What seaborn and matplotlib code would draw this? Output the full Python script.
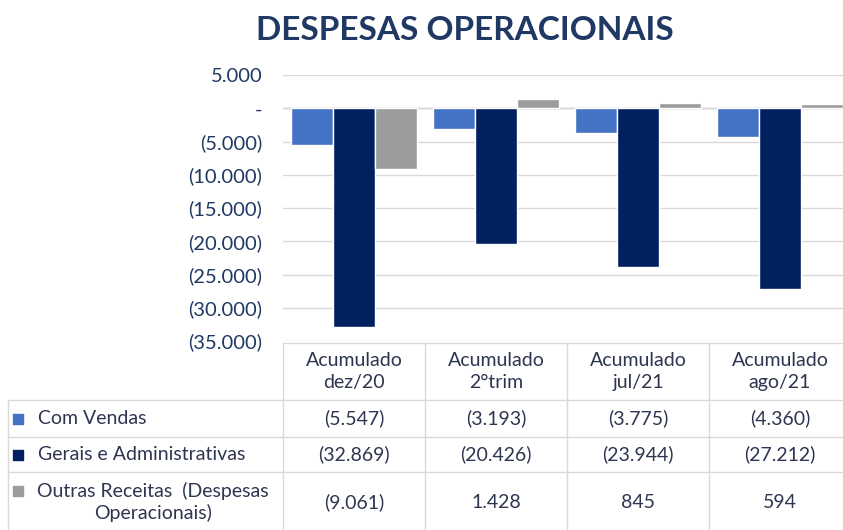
import numpy as np
import pandas as pd
import matplotlib.pyplot as plt
from matplotlib.ticker import FuncFormatter
import seaborn as sns

# --- dados (R$ mil)
periodos = ['Acumulado\ndez/20', 'Acumulado\n2°trim', 'Acumulado\njul/21', 'Acumulado\nago/21']
series = ['Com Vendas', 'Gerais e Administrativas', 'Outras Receitas  (Despesas\nOperacionais)']
com_vendas = [-5547, -3193, -3775, -4360]
gerais_adm = [-32869, -20426, -23944, -27212]
outras_rec = [-9061, 1428, 845, 594]
cores = ['#4472C4', '#002060', '#9C9C9C']

W, H = 843, 530
azul_txt = '#1F3864'
txt_tab = '#2E3550'
linha = '#D9D9D9'


def fmt_br(v, pos=None):
    if v == 0:
        return '-'
    s = f"{abs(int(round(v))):,}".replace(',', '.')
    return f"({s})" if v < 0 else s


def main():
    sns.set_theme(style='white')
    plt.rcParams['font.family'] = ['Lato', 'DejaVu Sans']

    df = pd.DataFrame({
        'periodo': periodos * 3,
        'serie': np.repeat(series, len(periodos)),
        'valor': com_vendas + gerais_adm + outras_rec,
    })

    fig = plt.figure(figsize=(W / 100, H / 100), dpi=100)
    fig.patch.set_facecolor('white')

    # --- area do grafico (coluna de 142 px por periodo)
    x0, col_w, y_top, y_bot = 283, 142, 75, 341
    ax = fig.add_axes([x0 / W, (H - y_bot) / H, 4 * col_w / W, (y_bot - y_top) / H])
    sns.barplot(data=df, x='periodo', y='valor', hue='serie',
                order=periodos, hue_order=series, palette=cores,
                saturation=1, width=0.89, legend=False, ax=ax)

    ax.set_xlim(-0.5, 3.5)
    ax.set_ylim(-35000, 5000)
    ax.set_yticks(np.arange(-35000, 5001, 5000))
    ax.yaxis.set_major_formatter(FuncFormatter(fmt_br))
    ax.yaxis.grid(True, color=linha, lw=1)
    ax.set_axisbelow(True)
    ax.axhline(0, color='#BFBFBF', lw=1, zorder=0.5)
    ax.set_xticks([])
    ax.set_xlabel('')
    ax.set_ylabel('')
    for sp in ax.spines.values():
        sp.set_visible(False)
    ax.tick_params(axis='y', length=0, pad=15, labelsize=14.5, labelcolor=azul_txt)

    fig.text(465 / W, 1 - 30 / H, 'DESPESAS OPERACIONAIS', ha='center', va='center',
             fontsize=24, fontweight='bold', color=azul_txt)

    # --- tabela de dados
    tab = fig.add_axes([0, 0, 1, 1])
    tab.set_xlim(0, W)
    tab.set_ylim(H, 0)
    tab.axis('off')
    tab.patch.set_alpha(0)

    y_head, rows = 343, [400, 437, 472, 532]
    x_right = x0 + 4 * col_w
    tab.plot([x0, x_right], [y_head, y_head], color=linha, lw=1)
    for yy in rows[:-1]:
        tab.plot([8, x_right], [yy, yy], color=linha, lw=1)
    tab.plot([8, 8], [rows[0], rows[-1]], color=linha, lw=1)
    for i in range(5):
        xx = x0 + i * col_w
        tab.plot([xx, xx], [y_head, rows[-1]], color=linha, lw=1)

    fs = 14
    for i, p in enumerate(periodos):
        tab.text(x0 + (i + 0.5) * col_w, (y_head + rows[0]) / 2, p, ha='center', va='center',
                 fontsize=fs, color=txt_tab, linespacing=1.35)

    valores = [com_vendas, gerais_adm, outras_rec]
    for r, (nome, vals, cor) in enumerate(zip(series, valores, cores)):
        yc = (rows[r] + rows[r + 1]) / 2
        if r == 2:
            tab.text(153, yc, nome, ha='center', va='center', fontsize=fs,
                     color=txt_tab, linespacing=1.3)
            tab.scatter([18], [yc - 11], marker='s', s=45, color=cor)
        else:
            tab.text(38, yc, nome, ha='left', va='center', fontsize=fs, color=txt_tab)
            tab.scatter([18], [yc], marker='s', s=45, color=cor)
        for i, v in enumerate(vals):
            tab.text(x0 + (i + 0.5) * col_w, yc, fmt_br(v), ha='center', va='center',
                     fontsize=fs, color=txt_tab)

    fig.savefig('out.png', dpi=100)
    plt.close(fig)


if __name__ == "__main__":
    main()
